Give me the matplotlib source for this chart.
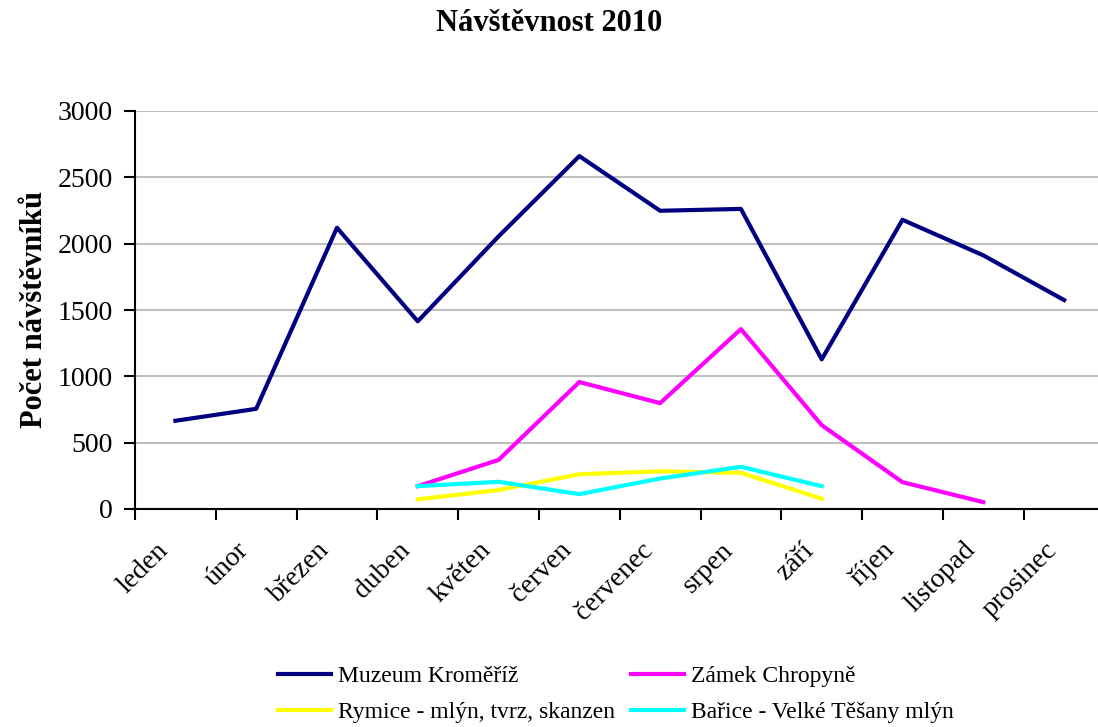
import matplotlib.pyplot as plt
import matplotlib.transforms as mtransforms
import numpy as np

# data
mesice = ['leden', 'únor', 'březen', 'duben', 'květen', 'červen',
          'červenec', 'srpen', 'září', 'říjen', 'listopad', 'prosinec']
nan = np.nan
muzeum = [665, 755, 2120, 1415, 2055, 2660, 2248, 2262, 1128, 2180, 1912, 1575]
zamek = [nan, nan, nan, 172, 370, 957, 798, 1356, 632, 202, 52, nan]
rymice = [nan, nan, nan, 73, 143, 262, 284, 273, 78, nan, nan, nan]
barice = [nan, nan, nan, 172, 205, 112, 230, 318, 172, nan, nan, nan]

serie = [
    ('Muzeum Kroměříž', muzeum, '#000080'),
    ('Zámek Chropyně', zamek, '#ff00ff'),
    ('Rymice - mlýn, tvrz, skanzen', rymice, '#ffff00'),
    ('Bařice - Velké Těšany mlýn', barice, '#00ffff'),
]

plt.rcParams['font.family'] = ['Liberation Serif', 'DejaVu Serif']

fig = plt.figure(figsize=(10.98, 7.27), dpi=100)
ax = fig.add_axes([135 / 1098, (727 - 509) / 727, (1098 - 135) / 1098, (509 - 111) / 727])

x = np.arange(len(mesice))
car = {}
for nazev, hodnoty, barva in serie:
    car[nazev], = ax.plot(x, hodnoty, color=barva, lw=3, label=nazev)

ax.set_xlim(-0.5, 11.42)
ax.set_ylim(0, 3000)
ax.set_yticks(range(0, 3001, 500))
ax.yaxis.grid(True, color='#c0c0c0', lw=1.5)
ax.set_axisbelow(True)

ax.set_xticks(np.arange(-0.5, 11.5, 1.0))
ax.set_xticklabels([])
ax.set_xticks(x, minor=True)
ax.set_xticklabels(mesice, minor=True, rotation=45, ha='right',
                   rotation_mode='anchor', fontsize=20)
ax.tick_params(axis='x', which='minor', length=0, pad=12)
ax.tick_params(axis='x', which='major', length=8, width=1.5)
ax.tick_params(axis='y', length=8, width=1.5, labelsize=20, pad=8)

# posun popisků měsíců doleva a dolů jako v originálu
posun = mtransforms.ScaledTranslation(-20 / 100, -12 / 100, fig.dpi_scale_trans)
for lbl in ax.get_xticklabels(minor=True):
    lbl.set_transform(lbl.get_transform() + posun)

for s in ['top', 'right']:
    ax.spines[s].set_visible(False)
for s in ['left', 'bottom']:
    ax.spines[s].set_linewidth(1.5)

ax.set_ylabel('Počet návštěvníků', fontsize=22, fontweight='bold', labelpad=6)
fig.text(0.5, 0.968, 'Návštěvnost 2010', ha='center', va='center',
         fontsize=22, fontweight='bold')

# legenda po řádcích: Muzeum, Zámek / Rymice, Bařice
poradi = ['Muzeum Kroměříž', 'Rymice - mlýn, tvrz, skanzen',
          'Zámek Chropyně', 'Bařice - Velké Těšany mlýn']
fig.legend([car[n] for n in poradi], poradi, loc='center',
           bbox_to_anchor=(0.561, 0.045), ncol=2, frameon=False,
           fontsize=17, handlelength=2.25, columnspacing=0.65, handletextpad=0.3,
           labelspacing=0.6)

plt.savefig('out.png', dpi=100)
